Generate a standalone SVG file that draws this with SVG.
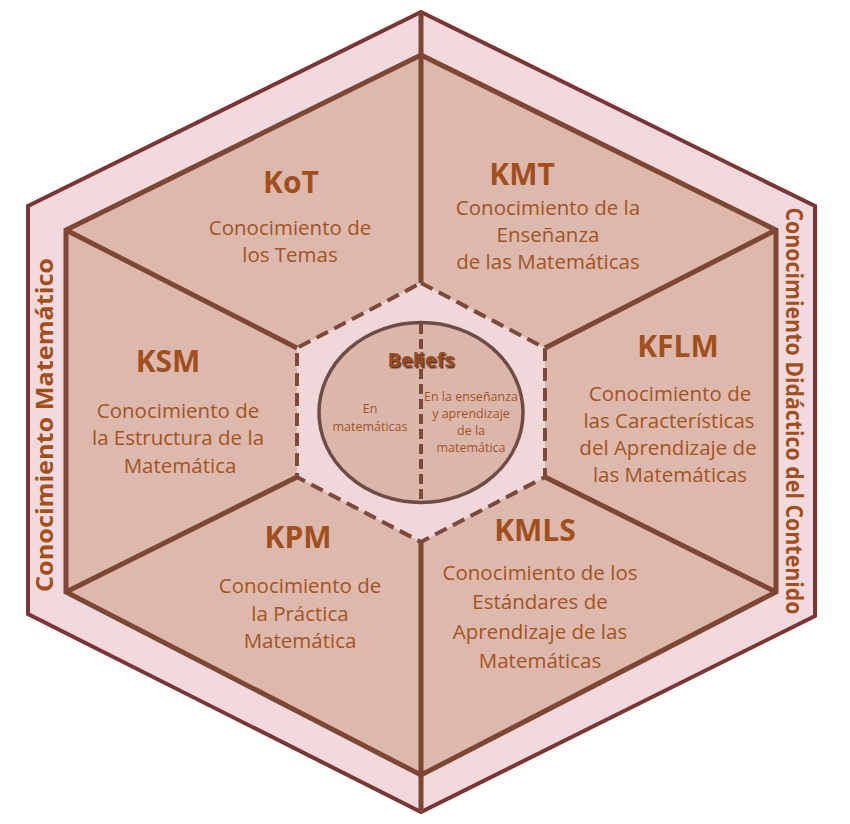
<svg xmlns="http://www.w3.org/2000/svg" width="850" height="824" viewBox="0 0 850 824">
  <defs>
    <style>
      .band { fill: #f1d9dd; stroke: #7a3535; stroke-width: 4; stroke-linejoin: miter; }
      .sector { fill: #ddb9ad; stroke: #7d4733; stroke-width: 5; stroke-linejoin: miter; }
      .spoke { stroke: #7d4733; stroke-width: 5; fill: none; }
      .core { fill: #efd7da; stroke: #7d4a3a; stroke-width: 4; stroke-dasharray: 13 7; }
      .ell { fill: #dbb7ab; stroke: #6e4c44; stroke-width: 3.5; }
      .split { stroke: #7d4a3a; stroke-width: 4; stroke-dasharray: 10 5; fill: none; }
      .h { font-family: "Open Sans", "Liberation Sans", sans-serif; font-weight: bold; font-size: 30px; fill: #a14f1d; text-anchor: middle; }
      .t { font-family: "Open Sans", "Liberation Sans", sans-serif; font-size: 20.5px; fill: #a4531f; text-anchor: middle; }
      .s { font-family: "Open Sans", "Liberation Sans", sans-serif; font-size: 12.5px; fill: #a4531f; text-anchor: middle; }
      .side { font-family: "Open Sans", "Liberation Sans", sans-serif; font-weight: bold; font-size: 23px; fill: #a14f1d; text-anchor: middle; }
      .bel { font-family: "Open Sans", "Liberation Sans", sans-serif; font-weight: bold; font-size: 20px; fill: #9c4a1e; text-anchor: middle; }
    </style>
    <filter id="shadow" x="-20%" y="-40%" width="140%" height="180%">
      <feDropShadow dx="1.5" dy="1.5" stdDeviation="0.6" flood-color="#4a2a1e" flood-opacity="0.9"/>
    </filter>
  </defs>

  <rect width="850" height="824" fill="#ffffff"/>

  <g id="outer-band">
    <path class="band" d="M421,12 L815,206 L815,616 L421,812 L28,614 L28,206 Z"/>
    <text class="side" transform="translate(53,425) rotate(-90)" textLength="334" lengthAdjust="spacingAndGlyphs">Conocimiento Matemático</text>
    <text class="side" transform="translate(786,411) rotate(90)" textLength="407" lengthAdjust="spacingAndGlyphs">Conocimiento Didáctico del Contenido</text>
  </g>

  <g id="inner-hex">
    <path class="sector" d="M421,55 L776,230 L776,592 L421,775 L66,592 L66,230 Z"/>
  </g>

  <g id="connectors">
    <line class="spoke" x1="421" y1="12" x2="421" y2="283"/>
    <line class="spoke" x1="421" y1="542" x2="421" y2="812"/>
    <line class="spoke" x1="297" y1="348" x2="66" y2="230"/>
    <line class="spoke" x1="545" y1="348" x2="776" y2="230"/>
    <line class="spoke" x1="297" y1="477" x2="66" y2="592"/>
    <line class="spoke" x1="545" y1="477" x2="776" y2="592"/>
  </g>

  <g id="KoT">
    <text class="h" x="291" y="193">KoT</text>
    <text class="t" x="290" y="235">Conocimiento de</text>
    <text class="t" x="290" y="262">los Temas</text>
  </g>

  <g id="KMT">
    <text class="h" x="522" y="185">KMT</text>
    <text class="t" x="548" y="215">Conocimiento de la</text>
    <text class="t" x="548" y="242">Enseñanza</text>
    <text class="t" x="548" y="269">de las Matemáticas</text>
  </g>

  <g id="KFLM">
    <text class="h" x="678" y="357">KFLM</text>
    <text class="t" x="670" y="401">Conocimiento de</text>
    <text class="t" x="669" y="428">las Características</text>
    <text class="t" x="668" y="455">del Aprendizaje de</text>
    <text class="t" x="670" y="482">las Matemáticas</text>
  </g>

  <g id="KSM">
    <text class="h" x="168" y="372">KSM</text>
    <text class="t" x="178" y="418">Conocimiento de</text>
    <text class="t" x="178" y="445">la Estructura de la</text>
    <text class="t" x="180" y="473">Matemática</text>
  </g>

  <g id="KPM">
    <text class="h" x="298" y="548">KPM</text>
    <text class="t" x="300" y="593">Conocimiento de</text>
    <text class="t" x="300" y="621">la Práctica</text>
    <text class="t" x="300" y="648">Matemática</text>
  </g>

  <g id="KMLS">
    <text class="h" x="535" y="541">KMLS</text>
    <text class="t" x="540" y="580">Conocimiento de los</text>
    <text class="t" x="540" y="609">Estándares de</text>
    <text class="t" x="540" y="639">Aprendizaje de las</text>
    <text class="t" x="540" y="668">Matemáticas</text>
  </g>

  <g id="Beliefs">
    <path class="core" d="M421,283 L545,348 L545,477 L421,542 L297,477 L297,348 Z"/>
    <ellipse class="ell" cx="421" cy="412.5" rx="102" ry="90"/>
    <line class="split" x1="421" y1="324" x2="421" y2="502"/>
    <text class="bel" x="421" y="367" filter="url(#shadow)">Beliefs</text>
    <text class="s" x="370" y="413">En</text>
    <text class="s" x="370" y="431">matemáticas</text>
    <text class="s" x="471" y="401">En la enseñanza</text>
    <text class="s" x="471" y="418">y aprendizaje</text>
    <text class="s" x="471" y="435">de la</text>
    <text class="s" x="471" y="452">matemática</text>
  </g>
</svg>
